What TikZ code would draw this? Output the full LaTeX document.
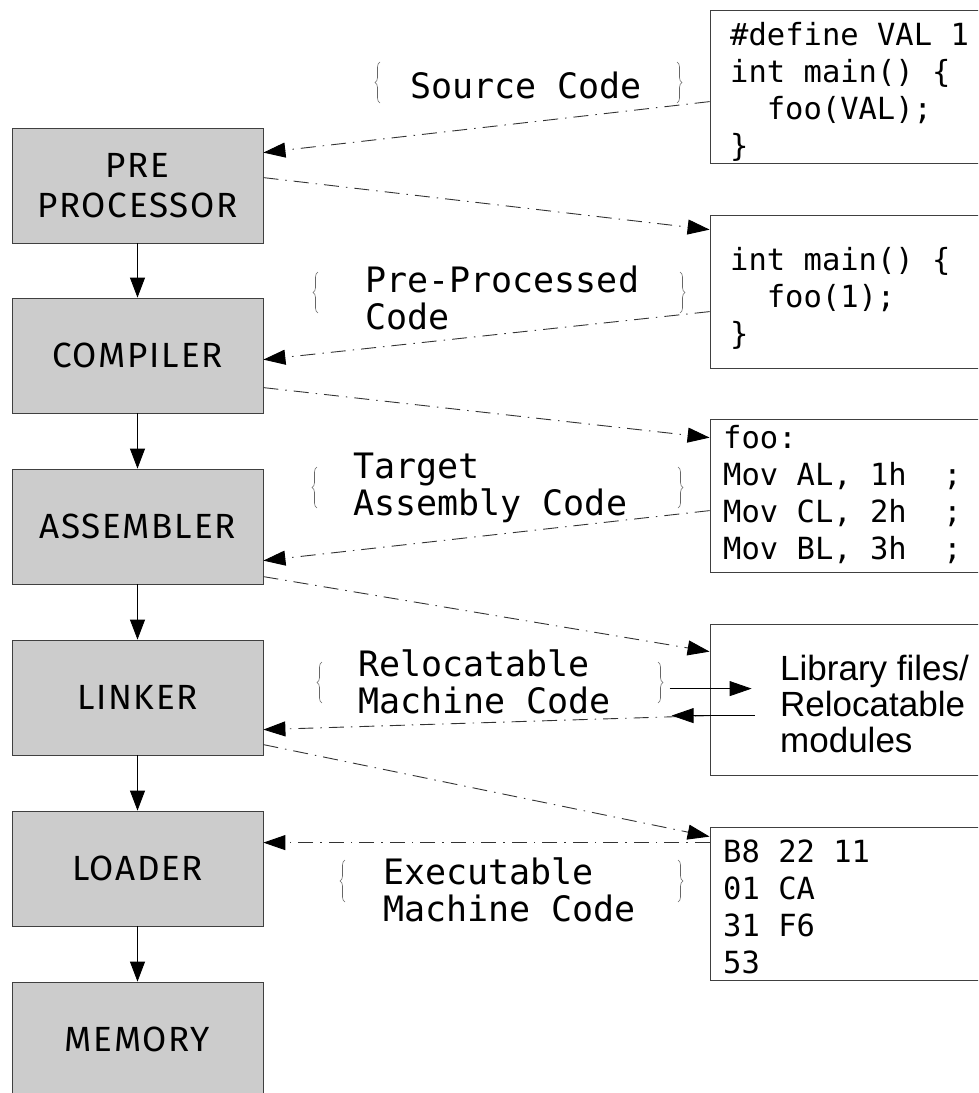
\documentclass[tikz,border=0pt]{standalone}
\usepackage{fontspec}
\setmainfont{Liberation Sans}
\newfontfamily\monof{DejaVu Sans Mono}
\newfontfamily\handf[LetterSpace=5]{Fira Sans}
\usetikzlibrary{arrows.meta,decorations.pathreplacing}
\begin{document}
\begin{tikzpicture}[x=1pt,y=-1pt,
  stage/.style={draw=black!75, line width=0.8pt, fill=black!20, minimum width=251pt, minimum height=115pt,
    inner sep=0pt, align=center, font=\handf\fontsize{35}{40}\selectfont},
  codebox/.style={draw=black!75, line width=0.8pt, minimum width=290pt, minimum height=153pt},
  codetxt/.style={anchor=north west, inner sep=0pt, align=left, font=\monof\fontsize{30.5}{37}\selectfont},
  lbl/.style={anchor=west, inner sep=0pt, align=left, font=\monof\fontsize{35}{37}\selectfont},
  flow/.style={-{Triangle[length=20pt,width=15pt]}, line width=0.8pt, black},
  solidarr/.style={-{Triangle[length=22pt,width=15pt]}, line width=0.8pt, black},
  dd/.style={-{Triangle[length=22pt,width=15pt,color=black]}, line width=0.9pt, draw=black!80,
    dash pattern=on 15pt off 7pt on 1.5pt off 7pt},
  brc/.style={draw=black!60, line width=0.6pt, decorate, decoration={brace, amplitude=5pt}}
]
\useasboundingbox (0,0) rectangle (978,1093);
\clip (0,0) rectangle (978,1093);

% left stages
\node[stage] (pp)   at (137.5,185.5) {PRE\\PROCESSOR};
\node[stage] (comp) at (137.5,355.5) {COMPILER};
\node[stage] (asm)  at (137.5,526.5) {ASSEMBLER};
\node[stage] (link) at (137.5,697.5) {LINKER};
\node[stage] (load) at (137.5,868.5) {LOADER};
\node[stage] (mem)  at (137.5,1039.5) {MEMORY};

\draw[flow] (pp) -- (comp);
\draw[flow] (comp) -- (asm);
\draw[flow] (asm) -- (link);
\draw[flow] (link) -- (load);
\draw[flow] (load) -- (mem);

% right boxes
\node[codebox] (src)  at (855,86.5) {};
\node[codebox] (ppc)  at (855,291.5) {};
\node[codebox] (asmc) at (855,495.5) {};
\node[codebox, minimum height=151pt] (lib) at (855,699.5) {};
\node[codebox] (exe)  at (855,903.5) {};

\node[codetxt] (srct) at (730,22)
  {\#define VAL 1\\int main() \{\\\hspace*{1.2em}foo(VAL);\\\}};
\node[codetxt] (ppct) at (730,247)
  {int main() \{\\\hspace*{1.2em}foo(1);\\\}};
\node[codetxt] (asmct) at (723,425)
  {foo:\\Mov AL, 1h\hspace*{1.2em};\\Mov CL, 2h\hspace*{1.2em};\\Mov BL, 3h\hspace*{1.2em};};
\node[codetxt] (exet) at (723,840)
  {B8 22 11\\01 CA\\31 F6\\53};
\node[anchor=west, inner sep=0pt, align=left, font=\fontsize{35}{36}\selectfont] (libt) at (780,704)
  {Library files/\\Relocatable\\modules};

% labels
\node[lbl] (l1) at (410,85) {Source Code};
\node[lbl] (l2) at (365,298) {Pre-Processed\\Code};
\node[lbl] (l3) at (353,488) {Target\\Assembly Code};
\node[lbl] (l4) at (358,682) {Relocatable\\Machine Code};
\node[lbl] (l5) at (383,890) {Executable\\Machine Code};

% braces
\draw[brc] (380,103) -- (380,62);  \draw[brc] (677,62) -- (677,103);
\draw[brc] (318,313) -- (318,272); \draw[brc] (680,272) -- (680,313);
\draw[brc] (317,508) -- (317,467); \draw[brc] (678,467) -- (678,508);
\draw[brc] (322,703) -- (322,662); \draw[brc] (658,662) -- (658,703);
\draw[brc] (345,902) -- (345,860); \draw[brc] (678,860) -- (678,902);

% dash-dot flows
\draw[dd] ([yshift=-92pt]src.north west) -- ([yshift=-25pt]pp.north east);
\draw[dd] ([yshift=-50pt]pp.north east) -- ([yshift=-15pt]ppc.north west);
\draw[dd] ([yshift=-97pt]ppc.north west) -- ([yshift=-62pt]comp.north east);
\draw[dd] ([yshift=-90pt]comp.north east) -- ([yshift=-19pt]asmc.north west);
\draw[dd] ([yshift=-92pt]asmc.north west) -- ([yshift=-92pt]asm.north east);
\draw[dd] ([yshift=-108pt]asm.north east) -- ([yshift=-28pt]lib.north west);
\draw[dd] ([yshift=-92pt]lib.north west) -- ([yshift=-90pt]link.north east);
\draw[dd] ([yshift=-105pt]link.north east) -- ([yshift=-10pt]exe.north west);
\draw[dd] ([yshift=-16pt]exe.north west) -- ([yshift=-32pt]load.north east);

% library exchange arrows
\draw[solidarr] ([xshift=-40pt,yshift=-65pt]lib.north west) -- ([xshift=42pt,yshift=-65pt]lib.north west);
\draw[solidarr] ([xshift=45pt,yshift=-92pt]lib.north west) -- ([xshift=-38pt,yshift=-92pt]lib.north west);
\end{tikzpicture}
\end{document}
